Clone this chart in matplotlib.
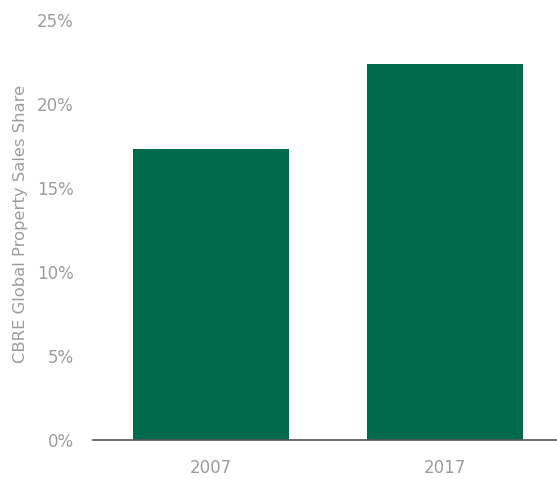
import matplotlib
matplotlib.use("Agg")
import matplotlib.pyplot as plt
from matplotlib.ticker import FuncFormatter

# Data
years = ["2007", "2017"]
share = [17.3, 22.4]          # % of global property sales
y_ticks = [0, 5, 10, 15, 20, 25]

BAR_COLOR = "#006A4D"
TEXT_COLOR = "#9c9c9c"

plt.rcParams["font.family"] = ["DejaVu Sans"]

fig = plt.figure(figsize=(5.57, 4.79), dpi=100)
ax = fig.add_axes([93 / 557, 39 / 479, 464 / 557, 420 / 479])

x = list(range(len(years)))
ax.bar(x, share, width=0.667, color=BAR_COLOR, zorder=2)

ax.set_xlim(-0.504, 1.479)
ax.set_ylim(0, 25)
ax.set_xticks(x)
ax.set_xticklabels(years)
ax.set_yticks(y_ticks)
ax.yaxis.set_major_formatter(FuncFormatter(lambda v, _: f"{v:.0f}%"))

for side in ("top", "right", "left"):
    ax.spines[side].set_visible(False)
ax.spines["bottom"].set_color("#555555")
ax.spines["bottom"].set_linewidth(1.2)

ax.tick_params(axis="both", length=0, labelsize=12, labelcolor=TEXT_COLOR)
ax.tick_params(axis="y", pad=14)
ax.tick_params(axis="x", pad=14)

ax.set_ylabel("CBRE Global Property Sales Share", fontsize=11.8,
              color=TEXT_COLOR, labelpad=6, y=0.514)

fig.savefig("out.png", dpi=100, facecolor="white")
